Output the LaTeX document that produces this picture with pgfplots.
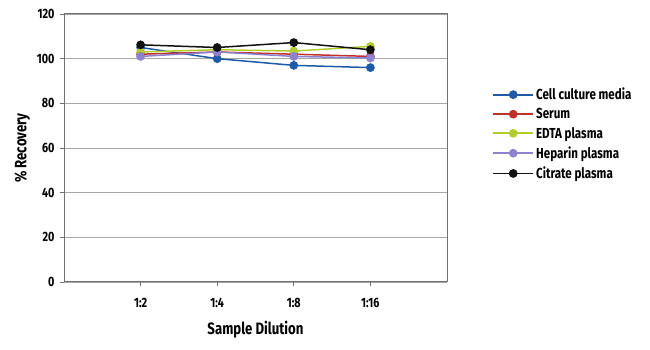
\documentclass[border=0pt]{standalone}
\usepackage{fontspec}
\setmainfont[FakeStretch=0.8]{Fira Sans}
\usepackage{pgfplots}
\pgfplotsset{compat=1.18}
\definecolor{cblue}{HTML}{1F5AA8}
\definecolor{cred}{HTML}{C0302B}
\definecolor{cyel}{HTML}{B3CC2E}
\definecolor{cpur}{HTML}{8C82D0}
\definecolor{cblk}{HTML}{111111}
\definecolor{axgray}{HTML}{707070}
\begin{document}
\begin{tikzpicture}
\path[use as bounding box] (0,0) rectangle (650pt,350pt);
\begin{axis}[
  at={(64pt,68pt)}, anchor=south west,
  scale only axis, width=383pt, height=268pt,
  xmin=0, xmax=5, ymin=0, ymax=120,
  xtick={1,2,3,4}, xticklabels={1:2,1:4,1:8,1:16},
  ytick={0,20,...,120},
  tick align=outside, tick pos=left,
  major tick length=4pt,
  axis line style={axgray, line width=1pt},
  tick style={axgray, line width=0.8pt},
  ymajorgrids, grid style={gray!70, line width=0.6pt},
  /pgf/number format/assume math mode=true,
  every tick label/.append style={font=\bfseries\fontsize{13.5}{15}\selectfont},
  xticklabel style={yshift=-9pt},
  yticklabel style={xshift=-2pt},
  xlabel={Sample Dilution}, ylabel={\% Recovery},
  label style={font=\bfseries\fontsize{16.5}{19}\selectfont},
  xlabel style={yshift=-6pt},
  every axis plot/.append style={line width=1.5pt, mark=*, mark size=3.6pt},
  legend style={at={(axis description cs:1.11,0.552)}, anchor=west, draw=none,
    font=\bfseries\fontsize{14.5}{17}\selectfont, row sep=3pt,
    column sep=0pt,
    /tikz/every even column/.style={column sep=12pt}},
  legend cell align=left,
  legend image code/.code={
    \draw[#1, mark=none, line width=1.8pt] (0pt,0pt) -- (40pt,0pt);
    \draw[#1, only marks] plot coordinates {(20pt,0pt)};
  },
]
\addplot[cblue, mark options={fill=cblue}] coordinates {(1,105) (2,100) (3,97) (4,96)};
\addlegendentry{Cell culture media}
\addplot[cred, mark options={fill=cred}] coordinates {(1,102) (2,103) (3,102) (4,101)};
\addlegendentry{Serum}
\addplot[cyel, mark options={fill=cyel}] coordinates {(1,103) (2,104) (3,103.4) (4,105.5)};
\addlegendentry{EDTA plasma}
\addplot[cpur, mark options={fill=cpur}] coordinates {(1,101) (2,103) (3,101) (4,100.3)};
\addlegendentry{Heparin plasma}
\addplot[cblk, mark options={fill=cblk}] coordinates {(1,106.2) (2,105) (3,107.2) (4,104)};
\addlegendentry{Citrate plasma}
\end{axis}
\end{tikzpicture}
\end{document}
